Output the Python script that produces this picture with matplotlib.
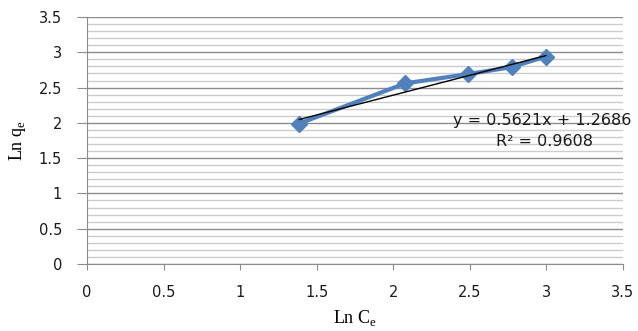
import numpy as np
import matplotlib
matplotlib.use('Agg')
import matplotlib.pyplot as plt
from matplotlib.ticker import MultipleLocator

ln_ce = [1.386, 2.079, 2.485, 2.773, 2.996]
ln_qe = [1.99, 2.56, 2.69, 2.79, 2.94]
slope, intercept = 0.5621, 1.2686
eq_text = "y = 0.5621x + 1.2686"
r2_text = "R² = 0.9608"
tick_vals = [0, 0.5, 1, 1.5, 2, 2.5, 3, 3.5]
tick_labels = ['0', '0.5', '1', '1.5', '2', '2.5', '3', '3.5']

plt.rcParams['font.family'] = 'DejaVu Sans'

fig = plt.figure(figsize=(6.38, 3.31), dpi=100)
ax = fig.add_axes([87/638, (331-264)/331, (623-87)/638, (264-17)/331])

ax.set_xlim(0, 3.5)
ax.set_ylim(0, 3.5)
ax.set_xticks(tick_vals)
ax.set_xticklabels(tick_labels)
ax.set_yticks(tick_vals)
ax.set_yticklabels(tick_labels)
ax.yaxis.set_minor_locator(MultipleLocator(0.1))
ax.grid(True, which='major', axis='y', color='#8c8c8c', lw=1.0)
ax.grid(True, which='minor', axis='y', color='#cccccc', lw=1.0)
ax.set_axisbelow(True)

for s in ['top', 'right']:
    ax.spines[s].set_visible(False)
for s in ['left', 'bottom']:
    ax.spines[s].set_color('#8c8c8c')
ax.tick_params(which='major', direction='out', color='#8c8c8c',
               labelsize=10.5, labelcolor='#1a1a1a')
ax.tick_params(axis='x', which='major', length=4, pad=11)
ax.tick_params(axis='y', which='major', length=7, pad=11)
ax.tick_params(axis='y', which='minor', length=0)

ax.plot(ln_ce, ln_qe, color='#4f81bd', lw=3, marker='D', ms=8, zorder=3)
xs = np.array([min(ln_ce), max(ln_ce)])
ax.plot(xs, slope * xs + intercept, color='black', lw=1, zorder=4)

ax.text(2.97, 2.04, eq_text, ha='center', va='center', fontsize=11.5,
        color='#1a1a1a', clip_on=False)
ax.text(2.985, 1.73, r2_text, ha='center', va='center', fontsize=11.5,
        color='#1a1a1a')

ax.set_xlabel(r'Ln C$_\mathregular{e}$', fontfamily='Liberation Serif', fontsize=13,
              va='center')
ax.xaxis.set_label_coords(0.5, -(318 - 264) / 247)
ax.set_ylabel(r'Ln q$_\mathregular{e}$', fontfamily='Liberation Serif', fontsize=13,
              va='center')
ax.yaxis.set_label_coords(-(87 - 17) / 536, (264 - 141) / 247)

fig.savefig('out.png', dpi=100)
